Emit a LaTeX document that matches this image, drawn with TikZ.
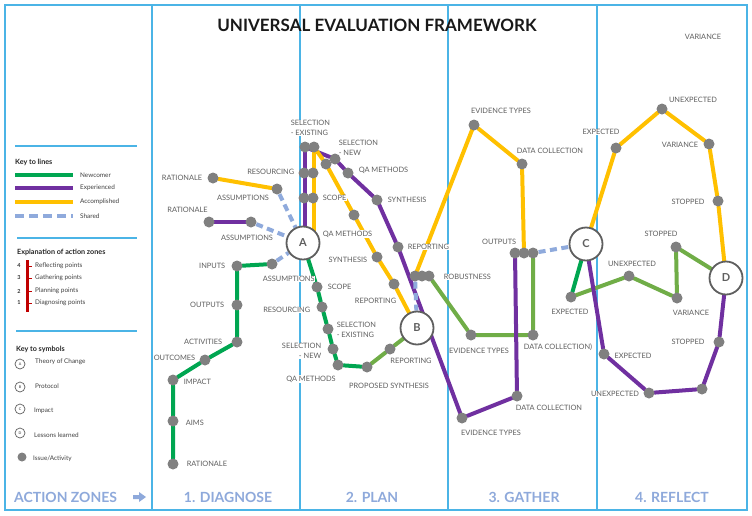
\documentclass[tikz,border=0pt]{standalone}
\usepackage{fontspec}
\setmainfont{Lato}
\pgfdeclarelayer{bg}
\pgfdeclarelayer{lines}
\pgfdeclarelayer{labels}
\pgfsetlayers{bg,lines,labels,main}
\definecolor{framec}{RGB}{75,180,230}
\definecolor{newc}{RGB}{0,166,81}
\definecolor{lgreen}{RGB}{112,173,71}
\definecolor{purp}{RGB}{112,48,160}
\definecolor{yell}{RGB}{255,192,0}
\definecolor{sharec}{RGB}{143,170,220}
\definecolor{dotc}{RGB}{128,128,128}
\definecolor{lblc}{RGB}{95,95,95}
\definecolor{zonec}{RGB}{142,169,219}
\definecolor{redc}{RGB}{192,0,0}
\definecolor{hubc}{RGB}{95,95,95}
\begin{document}
\begin{tikzpicture}[x=1pt,y=-1pt,
  dot/.style={circle,fill=dotc,minimum size=11pt,inner sep=0pt},
  hub/.style={circle,draw=hubc,line width=1.8pt,fill=white,minimum size=33pt,inner sep=0pt,
    font=\fontsize{11}{11}\selectfont\bfseries,text=hubc},
  lbl/.style={font=\fontsize{7.4}{9.8}\selectfont,text=lblc,fill=white,inner sep=0.6pt},
  route/.style={line width=4pt,line cap=round,line join=round},
  newr/.style={route,draw=newc},
  lgr/.style={route,draw=lgreen},
  expr/.style={route,draw=purp},
  accr/.style={route,draw=yell},
  shared/.style={line width=4pt,draw=sharec,dash pattern=on 7pt off 4.5pt},
  zone/.style={font=\fontsize{14}{14}\selectfont\bfseries,text=zonec},
  frameline/.style={draw=framec,line width=1.4pt},
  keyhead/.style={font=\fontsize{7.2}{8}\selectfont\bfseries,anchor=west,text=black!85,inner sep=0pt},
  keytxt/.style={font=\fontsize{6.4}{7}\selectfont,anchor=west,text=black!75,inner sep=0pt},
  keysym/.style={circle,draw=hubc,line width=0.7pt,fill=white,minimum size=10pt,inner sep=0pt,
    font=\fontsize{3.6}{4}\selectfont\bfseries,text=hubc},
]
\useasboundingbox (0,0) rectangle (752,515);

% ---------- frame and dividers ----------
\begin{pgfonlayer}{bg}
\fill[white] (0,0) rectangle (752,515);
\draw[frameline] (5,5) rectangle (747,510);
\draw[frameline] (152,5) -- (152,510);
\draw[frameline] (300,5) -- (300,510);
\draw[frameline] (448,5) -- (448,510);
\draw[frameline] (597,5) -- (597,510);
\draw[frameline] (15,146) -- (137,146);
\draw[frameline] (17,238) -- (137,238);
\draw[frameline] (16,331) -- (137,331);
\end{pgfonlayer}

% ---------- title and zones ----------
\node[font=\fontsize{17}{17}\selectfont\bfseries,text=black!90] (title) at (377,25) {UNIVERSAL EVALUATION FRAMEWORK};
\node[zone,anchor=west,inner sep=0pt] (zones) at (14,497) {ACTION ZONES};
\fill[zonec] (133,495) -- (139,495) -- (139,492) -- (146,497) -- (139,502) -- (139,499) -- (133,499) -- cycle;
\node[zone] (z1) at (228,497) {1. DIAGNOSE};
\node[zone] (z2) at (372,497) {2. PLAN};
\node[zone] (z3) at (524,497) {3. GATHER};
\node[zone] (z4) at (672,497) {4. REFLECT};

% ---------- legend ----------
\node[keyhead] (k1) at (15,162) {Key to lines};
\draw[line width=3.5pt,newc] (15,175) -- (73,175);
\draw[line width=3.5pt,purp] (15,188) -- (73,188);
\draw[line width=3.5pt,yell] (15,202) -- (73,202);
\draw[line width=3.5pt,sharec,dash pattern=on 9pt off 5pt] (15,216) -- (73,216);
\node[keytxt] (kn) at (80,175) {Newcomer};
\node[keytxt] (ke) at (80,188) {Experienced};
\node[keytxt] (ka) at (80,202) {Accomplished};
\node[keytxt] (ks) at (80,216) {Shared};

\node[keyhead] (k2) at (17,252) {Explanation of action zones};
\draw[line width=3pt,redc] (27,260) -- (27,312);
\foreach \n/\yy/\t in {4/266/Reflecting points,3/278/Gathering points,2/291/Planning points,1/303/Diagnosing points}{
  \node[font=\fontsize{5.5}{6}\selectfont\bfseries,text=black!80,inner sep=0pt] at (19,\yy) {\n};
  \draw[redc,line width=0.8pt] (28,\yy) -- (32,\yy);
  \node[keytxt] at (35,\yy) {\t};
}

\node[keyhead] (k3) at (16,349) {Key to symbols};
\node[keysym] (sA) at (20,364) {A};
\node[keysym] (sB) at (20,387) {B};
\node[keysym] (sC) at (20,409) {C};
\node[keysym] (sD) at (20,433) {D};
\node[circle,fill=dotc,minimum size=9pt,inner sep=0pt] (sI) at (22,457) {};
\node[keytxt] (tA) at (35,362) {Theory of Change};
\node[keytxt] (tB) at (35,386) {Protocol};
\node[keytxt] (tC) at (34,411) {Impact};
\node[keytxt] (tD) at (34,435) {Lessons learned};
\node[keytxt] (tI) at (33,459) {Issue/Activity};

% ---------- hubs ----------
\node[hub] (A) at (303,243) {A};
\node[hub] (B) at (417,328) {B};
\node[hub] (C) at (586,244) {C};
\node[hub] (D) at (726,278) {D};

% ---------- dots ----------
\foreach \nm/\px/\py in {
  gRat/173/464, gAims/173/421, gImp/173/380, gOutc/205/360, gAct/237/342, gOutp/237/305,
  gInp/237/266, gAss/272/264, pRat/209/222, pAss/251/222, yRat/213/178, yAss/277/189,
  te1/305/147, te2/314/147, tr1/304/173, tr2/313/173, ts1/304/198, ts2/313/198,
  sn1/326/164, sn2/335/159, pQA/348/173, pSyn/377/200, pRep/398/247,
  yQA/354/215, ySyn/377/257, yRep/394/284,
  gScope/317/287, gRes/322/307, gSelE/328/329, gSelN/333/349, gQA/338/365, gProp/367/367, gRep/390/349,
  rob1/415/276, rob2/422/276, rob3/429/276, yEv/474/125, yDC/522/164,
  out1/515/253, out2/524/253, out3/533/253, gEv/471/335, gDC/533/335, pDC/517/396, pEv/462/418,
  gExp/571/297, gUnexp/629/276, gVar/677/298, gStop/676/247,
  yExp/616/148, yUnexp/662/109, yVar/709/144, yStop/718/201,
  pExp/604/354, pUnexp/649/393, pDot/702/389, pStop/719/342}{
  \node[dot] (\nm) at (\px,\py) {};
}

% ---------- routes ----------
\begin{pgfonlayer}{lines}
% newcomer
\draw[newr] (gRat) -- (gAims) -- (gImp) -- (gOutc) -- (gAct) -- (gOutp) -- (gInp) -- (gAss);
\draw[newr] (A) -- (gScope) -- (gRes) -- (gSelE) -- (gSelN) -- (gQA) -- (gProp);
\draw[newr] (C) -- (gExp);
\draw[lgr] (gProp) -- (gRep) -- (B);
\draw[lgr] (rob3) -- (gEv) -- (gDC) -- (out3);
\draw[lgr] (gExp) -- (gUnexp) -- (gVar) -- (gStop) -- (D);
% experienced
\draw[expr] (pRat) -- (pAss);
\draw[expr] (te1) -- (te1 |- A);
\draw[expr] (te1) -- (sn2) -- (pQA) -- (pSyn) -- (pRep) -- (pEv) -- (pDC) -- (out1);
\draw[expr] (C) -- (pExp) -- (pUnexp) -- (pDot) -- (pStop) -- (D);
% accomplished
\draw[accr] (yRat) -- (yAss);
\draw[accr] (te2) -- (te2 |- A);
\draw[accr] (te2) -- (sn1) -- (yQA) -- (ySyn) -- (yRep) -- (B);
\draw[accr] (rob1) -- (yEv) -- (yDC) -- (out2);
\draw[accr] (C) -- (yExp) -- (yUnexp) -- (yVar) -- (yStop) -- (D);
% shared
\draw[shared] (yAss) -- (A);
\draw[shared] (pAss) -- (A);
\draw[shared] (gAss) -- (A);
\draw[shared] (rob1) -- (B);
\draw[shared] (out3) -- (C);
\end{pgfonlayer}

% ---------- labels ----------
\begin{pgfonlayer}{labels}
% zone 1
\node[lbl,anchor=east] (l1) at (203,178) {RATIONALE};
\node[lbl] (l2) at (243,198) {ASSUMPTIONS};
\node[lbl] (l3) at (187.5,210) {RATIONALE};
\node[lbl] (l4) at (247,238) {ASSUMPTIONS};
\node[lbl,anchor=east] (l5) at (226,266) {INPUTS};
\node[lbl,anchor=west] (l6) at (262,279) {ASSUMPTIONS};
\node[lbl,anchor=east] (l7) at (225,305) {OUTPUTS};
\node[lbl,anchor=east] (l8) at (223,342) {ACTIVITIES};
\node[lbl,anchor=east] (l9) at (196,358) {OUTCOMES};
\node[lbl,anchor=west] (l10) at (183,382) {IMPACT};
\node[lbl,anchor=west] (l11) at (185,423) {AIMS};
\node[lbl,anchor=west] (l12) at (186,464) {RATIONALE};
% zone 2
\node[lbl,align=left,anchor=west] (l13) at (290,128) {SELECTION\\- EXISTING};
\node[lbl,align=left,anchor=west] (l14) at (338,148) {SELECTION\\- NEW};
\node[lbl,anchor=east] (l15) at (295,172) {RESOURCING};
\node[lbl,anchor=west] (l16) at (322,198) {SCOPE};
\node[lbl,anchor=west] (l17) at (358,170) {QA METHODS};
\node[lbl,anchor=west] (l18) at (387,200) {SYNTHESIS};
\node[lbl,anchor=west] (l19) at (407,247) {REPORTING};
\node[lbl,anchor=west] (l20) at (322,234) {QA METHODS};
\node[lbl,anchor=east] (l21) at (368,260) {SYNTHESIS};
\node[lbl,anchor=east] (l22) at (397,301) {REPORTING};
\node[lbl,anchor=west] (l23) at (327,287) {SCOPE};
\node[lbl,anchor=east] (l24) at (311,310) {RESOURCING};
\node[lbl,align=left,anchor=west] (l25) at (336,329.5) {SELECTION\\- EXISTING};
\node[lbl,align=right,anchor=east] (l26) at (322,351) {SELECTION\\- NEW};
\node[lbl] (l27) at (311,379) {QA METHODS};
\node[lbl] (l28) at (389,386) {PROPOSED SYNTHESIS};
\node[lbl] (l29) at (411,361) {REPORTING};
% zone 3
\node[lbl] (l30) at (501,111) {EVIDENCE TYPES};
\node[lbl] (l31) at (550,151) {DATA COLLECTION};
\node[lbl,anchor=east] (l32) at (517,242) {OUTPUTS};
\node[lbl,anchor=west] (l33) at (443,277) {ROBUSTNESS};
\node[lbl] (l34) at (479,351) {EVIDENCE TYPES};
\node[lbl] (l35) at (558,347) {DATA COLLECTION)};
\node[lbl] (l36) at (549,408) {DATA COLLECTION};
\node[lbl] (l37) at (491,433) {EVIDENCE TYPES};
% zone 4
\node[lbl] (l38) at (703,37) {VARIANCE};
\node[lbl] (l39) at (601,132) {EXPECTED};
\node[lbl] (l40) at (693,100) {UNEXPECTED};
\node[lbl] (l41) at (680,145) {VARIANCE};
\node[lbl] (l42) at (688,202) {STOPPED};
\node[lbl] (l43) at (570,312) {EXPECTED};
\node[lbl] (l44) at (632,264) {UNEXPECTED};
\node[lbl] (l45) at (661,234) {STOPPED};
\node[lbl] (l46) at (691,313) {VARIANCE};
\node[lbl] (l47) at (688,342) {STOPPED};
\node[lbl] (l48) at (633,356) {EXPECTED};
\node[lbl] (l49) at (615,394) {UNEXPECTED};
\end{pgfonlayer}
\end{tikzpicture}
\end{document}
